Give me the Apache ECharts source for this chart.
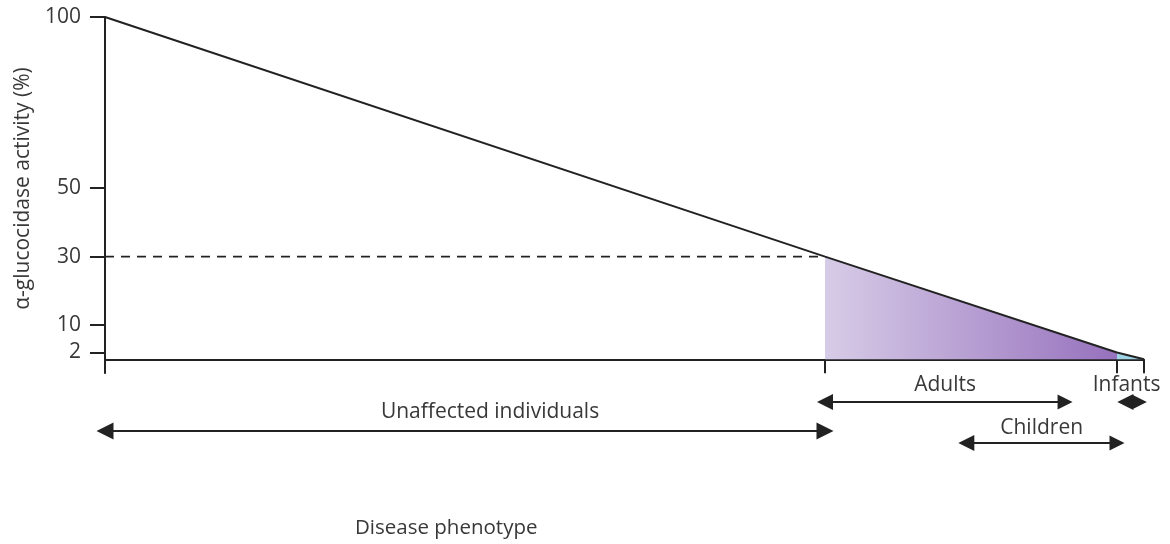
<!DOCTYPE html>
<html>
<head>
<meta charset="utf-8">
<script src="https://cdn.jsdelivr.net/npm/echarts@6/dist/echarts.min.js"></script>
<style>
html,body{margin:0;padding:0;background:#fff;}
#chart{width:1170px;height:544px;}
</style>
</head>
<body>
<div id="chart"></div>
<script>
// ---- data ----
const yTickValues = [2, 10, 30, 50, 100];
const curveX = [0, 69.3, 97.4, 100];      // disease phenotype position
const curveY = [100, 30, 2, 0];           // alpha-glucosidase activity (%)
const threshold = 30;
const xTickValues = [0, 69.3, 97.4, 100];
const groupNames = ['Unaffected individuals', 'Adults', 'Children', 'Infants'];
const groupStart = [0, 69.3, 82.9, 98.2];
const groupEnd = [69.3, 92.4, 97.4, 99.6];
const yAxisTitle = 'α-glucocidase activity (%)';
const xAxisTitle = 'Disease phenotype';

// ---- layout (not data) ----
const FONT = 'Open Sans';
const TXT = '#383838';
const INK = '#222222';
const rowY = [58, 29, 70, 29];            // annotation rows (px below axis)
const labelDist = [8, 6, 4, 6];
const labelShift = [25, 0, 0, -6];
const headSize = [[17, 17], [16, 15], [16, 15], [16, 14]];

const chart = echarts.init(document.getElementById('chart'));

const curve = curveX.map((x, i) => [x, curveY[i]]);
const iThr = curveY.indexOf(threshold);
const iLow = curveY.indexOf(2);

const annotationSeries = groupNames.map((name, i) => ({
  type: 'lines',
  coordinateSystem: 'cartesian2d',
  xAxisIndex: 1,
  yAxisIndex: 1,
  silent: true,
  clip: false,
  symbol: ['triangle', 'triangle'],
  symbolSize: headSize[i],
  lineStyle: { color: INK, width: 2, opacity: 1, curveness: 0 },
  label: {
    show: true,
    position: 'insideMiddleTop',
    distance: labelDist[i],
    offset: [labelShift[i], 0],
    formatter: name,
    color: TXT,
    fontFamily: FONT,
    fontSize: 21
  },
  data: [{ coords: [[groupStart[i], rowY[i]], [groupEnd[i], rowY[i]]] }]
}));

const option = {
  animation: false,
  backgroundColor: '#fff',
  title: {
    text: xAxisTitle,
    left: 350,
    top: 513,
    textStyle: { color: TXT, fontFamily: FONT, fontSize: 20.5, fontWeight: 'normal' }
  },
  grid: [
    { left: 105, right: 26, top: 17, height: 356 },
    { left: 105, right: 26, top: 373, bottom: 0 }
  ],
  xAxis: [
    {
      gridIndex: 0, type: 'value', min: 0, max: 100,
      axisLine: { show: true, onZero: true, lineStyle: { color: INK, width: 2 } },
      axisTick: { show: true, length: 14, customValues: xTickValues, lineStyle: { color: INK, width: 2 } },
      axisLabel: { show: false },
      splitLine: { show: false }
    },
    {
      gridIndex: 1, type: 'value', min: 0, max: 100, show: false
    }
  ],
  yAxis: [
    {
      gridIndex: 0, type: 'value', min: -4, max: 100,
      name: yAxisTitle,
      nameLocation: 'middle',
      nameGap: 71,
      nameTextStyle: { color: TXT, fontFamily: FONT, fontSize: 21, padding: [0, 0, 0, 13] },
      axisLine: { show: true, onZero: false, lineStyle: { color: INK, width: 2 } },
      axisTick: { show: true, length: 15, customValues: yTickValues, lineStyle: { color: INK, width: 2 } },
      axisLabel: { show: true, customValues: yTickValues, margin: 24, color: TXT, fontFamily: FONT, fontSize: 21 },
      splitLine: { show: false }
    },
    {
      gridIndex: 1, type: 'value', min: 0, max: 171, inverse: true, show: false
    }
  ],
  series: [
    {
      type: 'line',
      silent: true,
      symbol: 'none',
      data: curve.slice(iThr, iLow + 1),
      lineStyle: { width: 0 },
      areaStyle: {
        opacity: 1,
        color: new echarts.graphic.LinearGradient(0, 0, 1, 0, [
          { offset: 0, color: '#d7cce7' },
          { offset: 1, color: '#9671bd' }
        ])
      }
    },
    {
      type: 'line',
      silent: true,
      symbol: 'none',
      data: curve.slice(iLow),
      lineStyle: { width: 0 },
      areaStyle: { opacity: 1, color: '#9fd4e4' }
    },
    {
      type: 'line',
      silent: true,
      symbol: 'none',
      data: [[curveX[0], threshold], [curveX[iThr], threshold]],
      lineStyle: { color: INK, width: 1.6, type: [9, 7] }
    },
    {
      type: 'line',
      silent: true,
      symbol: 'none',
      data: curve,
      lineStyle: { color: INK, width: 2 }
    }
  ].concat(annotationSeries)
};

chart.setOption(option);
</script>
</body>
</html>
